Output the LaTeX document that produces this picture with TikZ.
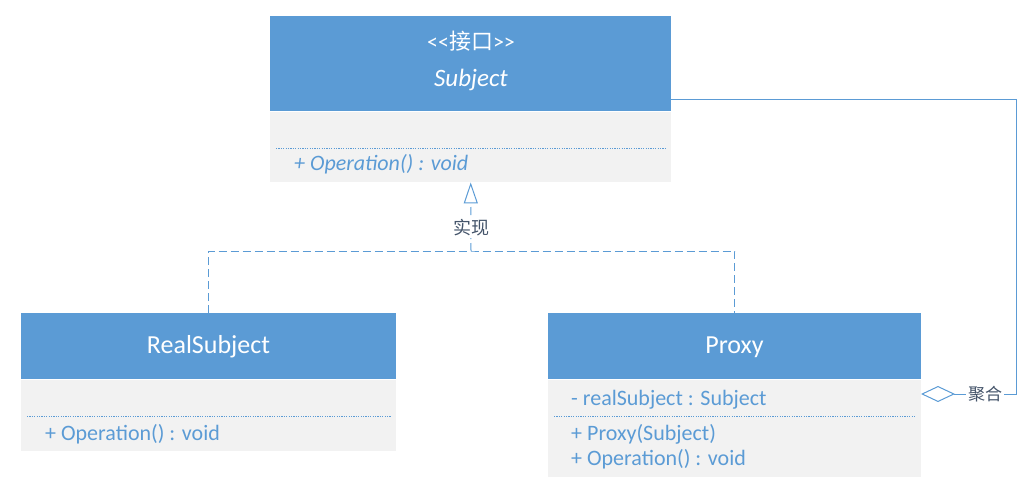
\documentclass[tikz,border=0pt]{standalone}
\usepackage{fontspec}
\setmainfont{Carlito}
\newfontfamily\cjk{Noto Sans CJK SC}
\usetikzlibrary{arrows.meta}
\definecolor{hdr}{HTML}{5B9BD5}
\definecolor{bodyc}{HTML}{F2F2F2}
\definecolor{lbl}{HTML}{44546A}
\tikzset{
  hdrbox/.style={rectangle, fill=hdr, anchor=north west, inner sep=0pt, text=white},
  bodybox/.style={rectangle, fill=bodyc, anchor=north west, inner sep=0pt},
  member/.style={anchor=west, text=hdr, inner sep=0pt, font=\fontsize{22}{24}\selectfont},
  sep/.style={hdr, line width=0.8pt, dash pattern=on 1.2pt off 1.2pt},
  conn/.style={hdr, line width=1pt},
  lab/.style={fill=white, text=lbl, inner sep=2pt},
  titlef/.style={font=\fontsize{26}{28}\selectfont}
}
\begin{document}
\begin{tikzpicture}[x=1pt,y=-1pt]
\useasboundingbox (0,0) rectangle (1031,495);
% Subject
\node[hdrbox, minimum width=401pt, minimum height=95pt] (subH) at (270,16) {};
\node[bodybox, minimum width=401pt, minimum height=70pt] (subB) at (270,112) {};
\node[text=white, inner sep=0pt, font=\fontsize{22}{24}\selectfont] (st) at (471,41) {{<}{<}{\cjk 接口}{>}{>}};
\node[text=white, inner sep=0pt, font=\fontsize{25}{28}\selectfont\itshape] (sn) at (471,80) {Subject};
\draw[sep] (276,148) -- (666,148);
\node[member, font=\fontsize{22}{24}\selectfont\itshape] (sm1) at (294,164) {+ Operation() : void};
% RealSubject
\node[hdrbox, minimum width=375pt, minimum height=66pt] (rsH) at (21,313) {};
\node[bodybox, minimum width=375pt, minimum height=71pt] (rsB) at (21,380) {};
\node[text=white, inner sep=0pt, titlef] (rsn) at (208.5,347) {RealSubject};
\draw[sep] (27,416) -- (391,416);
\node[member] (rsm1) at (45,434) {+ Operation() : void};
% Proxy
\node[hdrbox, minimum width=373pt, minimum height=66pt] (pxH) at (548,313) {};
\node[bodybox, minimum width=373pt, minimum height=97pt] (pxB) at (548,380) {};
\node[text=white, inner sep=0pt, titlef] (pxn) at (734.5,347) {Proxy};
\node[member] (pxa1) at (571,400) {- realSubject : Subject};
\draw[sep] (554,416) -- (916,416);
\node[member] (pxm1) at (571,434) {+ Proxy(Subject)};
\node[member] (pxm2) at (571,459) {+ Operation() : void};
% Realization
\coordinate (j) at (471,251);
\draw[conn, dash pattern=on 8pt off 4pt] (rsH.north) |- (j) -| (pxH.north);
\draw[conn, dash pattern=on 8pt off 4pt, -{Triangle[open, length=21pt, width=14pt, line width=1pt]}] (j) -- (subB.south);
\node[lab, font=\cjk\fontsize{18}{20}\selectfont] (impl) at (471,228) {实现};
% Aggregation
\coordinate (a0) at (671,99);
\coordinate (a1) at (1016,99);
\coordinate (a2) at (1016,394);
\coordinate (ad) at (921,394);
\draw[conn, {Diamond[open, length=34pt, width=16pt, line width=1pt]}-] (ad) -- (a2) -- (a1) -- (a0);
\node[lab, font=\cjk\fontsize{17}{20}\selectfont] (agg) at (985,394) {聚合};
\end{tikzpicture}
\end{document}
